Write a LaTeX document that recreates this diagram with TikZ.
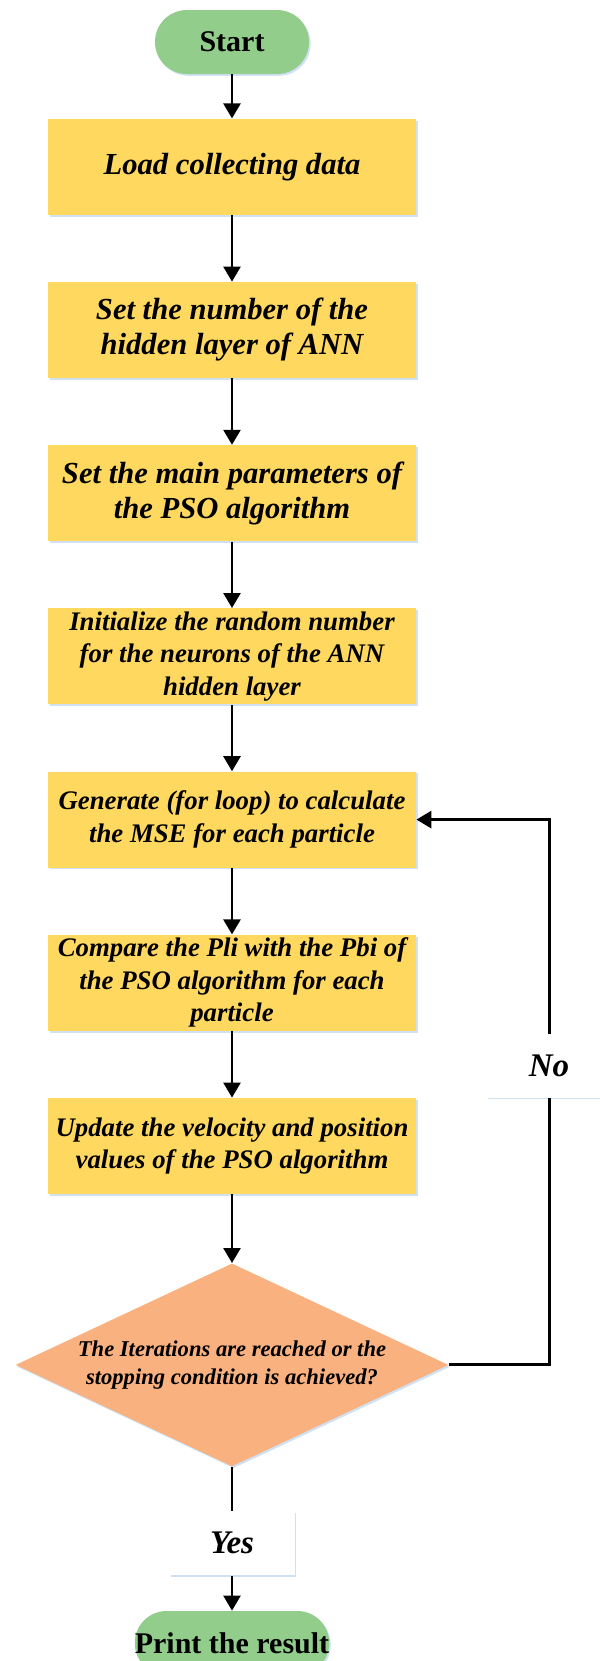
\documentclass[tikz,border=0pt]{standalone}
\usepackage{fontspec}
\setmainfont{Liberation Serif}
\usetikzlibrary{arrows.meta, positioning, shapes.geometric, shadows}

\definecolor{termgreen}{RGB}{147,205,139}
\definecolor{boxyellow}{RGB}{255,216,96}
\definecolor{decorange}{RGB}{250,177,128}
\definecolor{shadowblue}{RGB}{196,218,240}

\begin{document}
\begin{tikzpicture}[
  x=1pt, y=1pt,
  soft/.style={drop shadow={shadow xshift=0.8pt, shadow yshift=-0.9pt, fill=shadowblue, opacity=0.8}},
  term/.style={soft, fill=termgreen, rounded corners=15.9pt, minimum height=32pt, inner sep=0pt,
               font=\fontsize{15}{18}\selectfont\bfseries},
  stage/.style={soft, fill=boxyellow, minimum width=184pt, minimum height=48pt, inner sep=0pt,
                align=center, font=\fontsize{13.4}{16.2}\selectfont\bfseries\itshape},
  bigstage/.style={stage, font=\fontsize{15.3}{17.5}\selectfont\bfseries\itshape},
  cond/.style={soft, diamond, fill=decorange, aspect=2.13, minimum width=216.5pt, minimum height=101.5pt,
               inner sep=0pt, align=center, font=\fontsize{11.3}{14}\selectfont\bfseries\itshape},
  answer/.style={soft, fill=white, minimum height=32pt, inner sep=0pt,
                 font=\fontsize{16.5}{19}\selectfont\bfseries\itshape},
  arr/.style={-{Triangle[length=7.5pt, width=8.5pt]}, line width=1.25pt},
  loopline/.style={line width=1.5pt},
  node distance=33.2pt
]
\useasboundingbox (0,0) rectangle (300,-830.5);

\node[term, minimum width=77pt] (start) at (116,-21) {Start};
\node[bigstage, below=22pt of start] (s1) {Load collecting data};
\node[bigstage, below=of s1] (s2) {Set the number of the\\hidden layer of ANN};
\node[bigstage, below=of s2] (s3) {Set the main parameters of\\the PSO algorithm};
\node[stage, below=of s3] (s4) {Initialize the random number\\for the neurons of the ANN\\hidden layer};
\node[stage, below=of s4] (s5) {Generate (for loop) to calculate\\the MSE for each particle};
\node[stage, below=of s5] (s6) {Compare the Pli with the Pbi of\\the PSO algorithm for each\\particle};
\node[stage, below=of s6] (s7) {Update the velocity and position\\values of the PSO algorithm};
\node[cond, below=34.3pt of s7] (dec) {The Iterations are reached or the\\stopping condition is achieved?};
\node[answer, minimum width=62.5pt, below=22pt of dec] (yes) {Yes};
\node[term, minimum width=94.5pt, below=17.5pt of yes] (done) {Print the result};
\node[answer, minimum width=63pt, minimum height=31.5pt] (no) at (274.5,-533) {No};

% main flow
\draw[arr] (start) -- (s1);
\draw[arr] (s1) -- (s2);
\draw[arr] (s2) -- (s3);
\draw[arr] (s3) -- (s4);
\draw[arr] (s4) -- (s5);
\draw[arr] (s5) -- (s6);
\draw[arr] (s6) -- (s7);
\draw[arr] (s7) -- (dec);

% decision
\draw[loopline] (dec.east) -| (no.south);
\draw[arr, line width=1.5pt] (no.north) |- (s5.east);
\draw[loopline, line width=1.25pt] (dec.south) -- (yes.north);
\draw[arr] (yes) -- (done);
\end{tikzpicture}
\end{document}
